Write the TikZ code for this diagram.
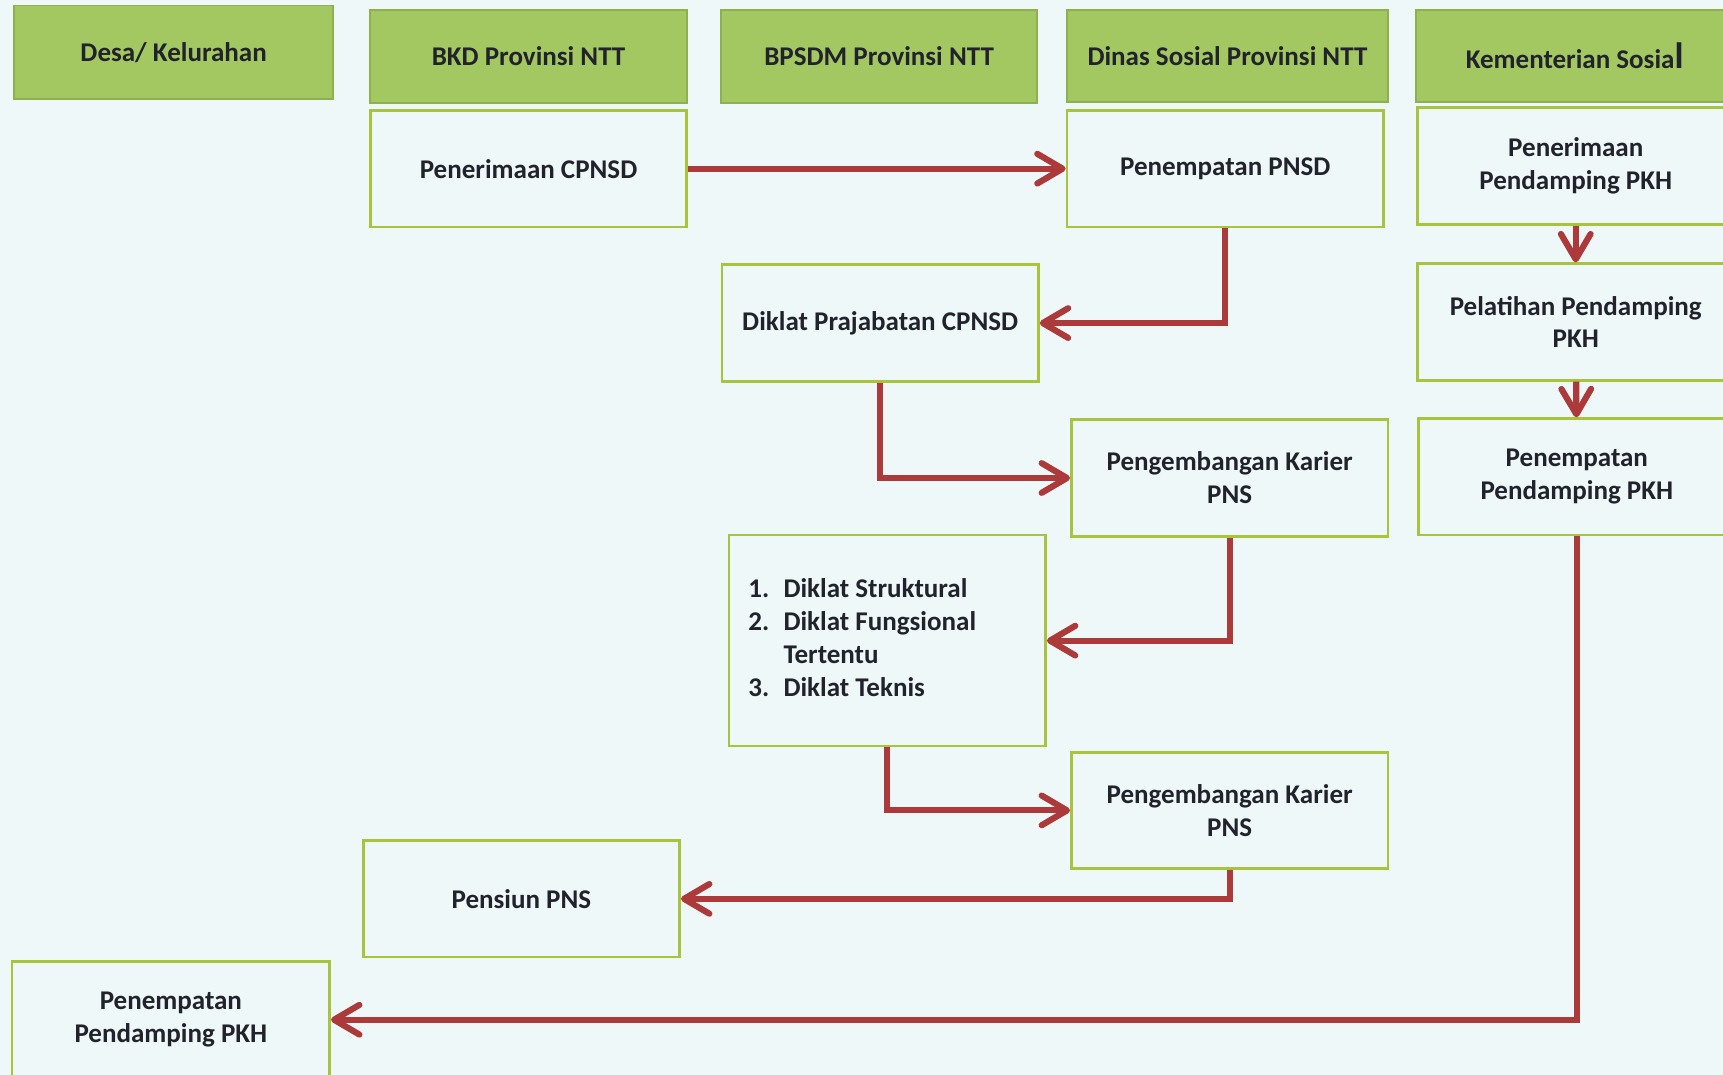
\documentclass[tikz,border=0pt]{standalone}
\usepackage{fontspec}
\setmainfont{Carlito}
\usepackage{tikz}
\usetikzlibrary{arrows.meta}
\definecolor{bgcol}{HTML}{EEF8F8}
\definecolor{headfill}{HTML}{A3C862}
\definecolor{headline}{HTML}{8EB04E}
\definecolor{boxline}{HTML}{A8C43C}
\definecolor{arrowcol}{HTML}{AD3A3B}
\definecolor{txtcol}{HTML}{22222C}

\begin{document}
\begin{tikzpicture}[x=0.1mm,y=-0.1mm,
  every node/.style={font=\bfseries\fontsize{7}{8.5}\selectfont, text=txtcol, inner sep=0pt},
  head/.style={draw=headline, fill=headfill, line width=0.5pt, minimum width=28.8mm, minimum height=8.4mm},
  box/.style={draw=boxline, line width=0.7pt, minimum width=28.8mm, minimum height=10.6mm, align=center},
  flow/.style={draw=arrowcol, line width=1.6pt, -{Straight Barb[length=2.3mm,width=2.7mm,round]}}]
 \clip (0,0) rectangle (1568,978);
 \fill[bgcol] (0,0) rectangle (1568,978);
 % column heads
 \node[head, minimum width=29mm, minimum height=8.5mm] (hdesa) at (158,47.5) {Desa/ Kelurahan};
 \node[head] (hbkd) at (481,51.5) {BKD Provinsi NTT};
 \node[head] (hbpsdm) at (800,51.5) {BPSDM Provinsi NTT};
 \node[head, minimum width=29.2mm] (hdinsos) at (1117,51) {Dinas Sosial Provinsi NTT};
 \node[head] (hkemsos) at (1433,51) {Kementerian Sosia{\fontsize{9.5}{9.5}\selectfont l}};
 % steps
 \node[box] (terima) at (481,153.5) {Penerimaan CPNSD};
 \node[box] (tempat) at (1115,153.5) {Penempatan PNSD};
 \node[box] (terimapkh) at (1434,151) {Penerimaan\\Pendamping PKH};
 \node[box] (prajab) at (801,294) {Diklat Prajabatan CPNSD};
 \node[box] (latihpkh) at (1434,293) {Pelatihan Pendamping\\PKH};
 \node[box] (karier1) at (1119,435) {Pengembangan Karier\\PNS};
 \node[box] (tempatpkh) at (1435,434) {Penempatan\\Pendamping PKH};
 \node[box, minimum height=19.2mm, text width=25.3mm, align=left, inner xsep=1.7mm] (diklat) at (807.5,583)
  {\spaceskip=0pt\xspaceskip=0pt
   \begin{tabular}{@{}l@{\hspace{1.3mm}}l@{}}
    1. & Diklat Struktural\\
    2. & Diklat Fungsional\\
       & Tertentu\\
    3. & Diklat Teknis
   \end{tabular}};
 \node[box] (karier2) at (1119,737.5) {Pengembangan Karier\\PNS};
 \node[box] (pensiun) at (474.5,818) {Pensiun PNS};
 \node[box, minimum width=28.9mm] (desapkh) at (155.5,928) {Penempatan\\Pendamping PKH};
 % flow
 \draw[flow] (terima.east) -- (tempat.west);
 \draw[flow] (tempat.south) |- (prajab.east);
 \draw[flow] (prajab.south) |- (karier1.west);
 \draw[flow] (karier1.south) |- (diklat.east);
 \draw[flow] (diklat.south) |- (karier2.west);
 \draw[flow] (karier2.south) |- (pensiun.east);
 \draw[flow] (terimapkh) -- (latihpkh);
 \draw[flow] (latihpkh) -- (tempatpkh);
 \draw[flow] (tempatpkh.south) |- (desapkh.east);
\end{tikzpicture}
\end{document}
